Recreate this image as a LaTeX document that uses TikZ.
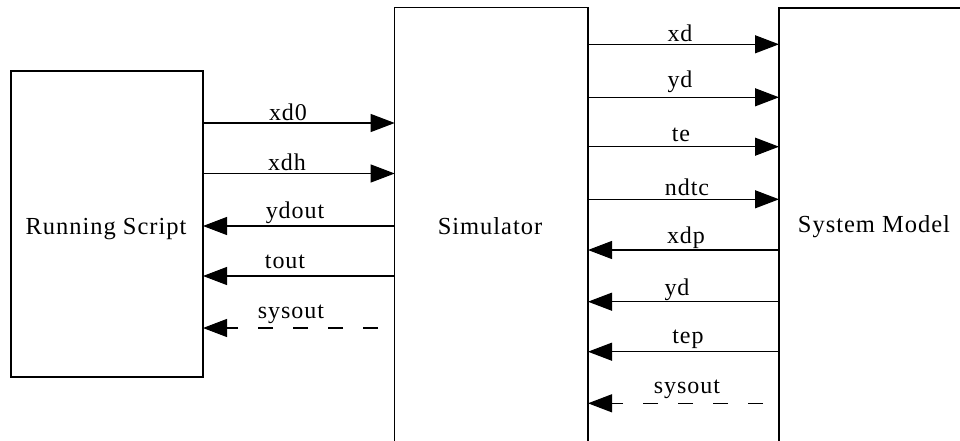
\documentclass[tikz,border=0pt]{standalone}
\usepackage{fontspec}
\setmainfont{Liberation Serif}[LetterSpace=4]
\usetikzlibrary{arrows.meta}

\tikzset{
  blockbox/.style={minimum width=#1, draw=none, inner sep=0pt, outer sep=0pt},
  frame/.style={line width=1.4pt, line cap=rect},
  flow/.style={line width=1.1pt, -{Triangle[length=24pt,width=18pt]}},
  optflow/.style={flow, dash pattern=on 15pt off 20pt},
  sig/.style={font=\fontsize{24}{28}\selectfont, anchor=base, inner sep=0pt},
  title/.style={font=\fontsize{24.5}{28}\selectfont, anchor=base, inner sep=0pt}
}

\begin{document}
\begin{tikzpicture}[x=1pt, y=-1pt]
  \clip (0,0) rectangle (960,441);

  % blocks
  \node[blockbox=192pt, minimum height=306pt] (script) at (107,224) {};
  \node[blockbox=193.3pt, minimum height=440pt] (sim) at (491.35,227.5) {};
  \node[blockbox=200pt, minimum height=440pt] (model) at (879,228) {};

  \draw[frame] (script.south west) rectangle (script.north east);
  \draw[frame] (sim.south west) |- (sim.north east) -- (sim.south east);
  \draw[frame] (model.south west) |- (model.north east);

  \node[title] (scriptlbl) at (106,234) {Running Script};
  \node[title] (simlbl) at (490,234) {Simulator};
  \node[title] (modellbl) at (874,232.5) {System Model};

  % script <-> simulator
  \draw[flow] (script.east |- 0,123) -- (sim.west |- 0,123);
  \draw[flow] (script.east |- 0,173.5) -- (sim.west |- 0,173.5);
  \draw[flow] (sim.west |- 0,226) -- (script.east |- 0,226);
  \draw[flow] (sim.west |- 0,276) -- (script.east |- 0,276);
  \coordinate (sysoutL) at (378,328);
  \draw[optflow] (sysoutL) -- (script.east |- sysoutL);

  \node[sig] (l1) at (288,120.5) {xd0};
  \node[sig] (l2) at (287,170) {xdh};
  \node[sig] (l3) at (295,218) {ydout};
  \node[sig] (l4) at (285,268) {tout};
  \node[sig] (l5) at (291,318) {sysout};

  % simulator <-> system model
  \draw[flow] (sim.east |- 0,44.3) -- (model.west |- 0,44.3);
  \draw[flow] (sim.east |- 0,97.3) -- (model.west |- 0,97.3);
  \draw[flow] (sim.east |- 0,146.7) -- (model.west |- 0,146.7);
  \draw[flow] (sim.east |- 0,199.3) -- (model.west |- 0,199.3);
  \draw[flow] (model.west |- 0,250) -- (sim.east |- 0,250);
  \draw[flow] (model.west |- 0,301.7) -- (sim.east |- 0,301.7);
  \draw[flow] (model.west |- 0,351.7) -- (sim.east |- 0,351.7);
  \coordinate (sysoutR) at (763,403.3);
  \draw[optflow] (sysoutR) -- (sim.east |- sysoutR);

  \node[sig] (r1) at (680,41.7) {xd};
  \node[sig] (r2) at (680,88) {yd};
  \node[sig] (r3) at (681,141.7) {te};
  \node[sig] (r4) at (687,195) {ndtc};
  \node[sig] (r5) at (686,243.3) {xdp};
  \node[sig] (r6) at (677,295) {yd};
  \node[sig] (r7) at (688,343.3) {tep};
  \node[sig] (r8) at (687,393.3) {sysout};
\end{tikzpicture}
\end{document}
